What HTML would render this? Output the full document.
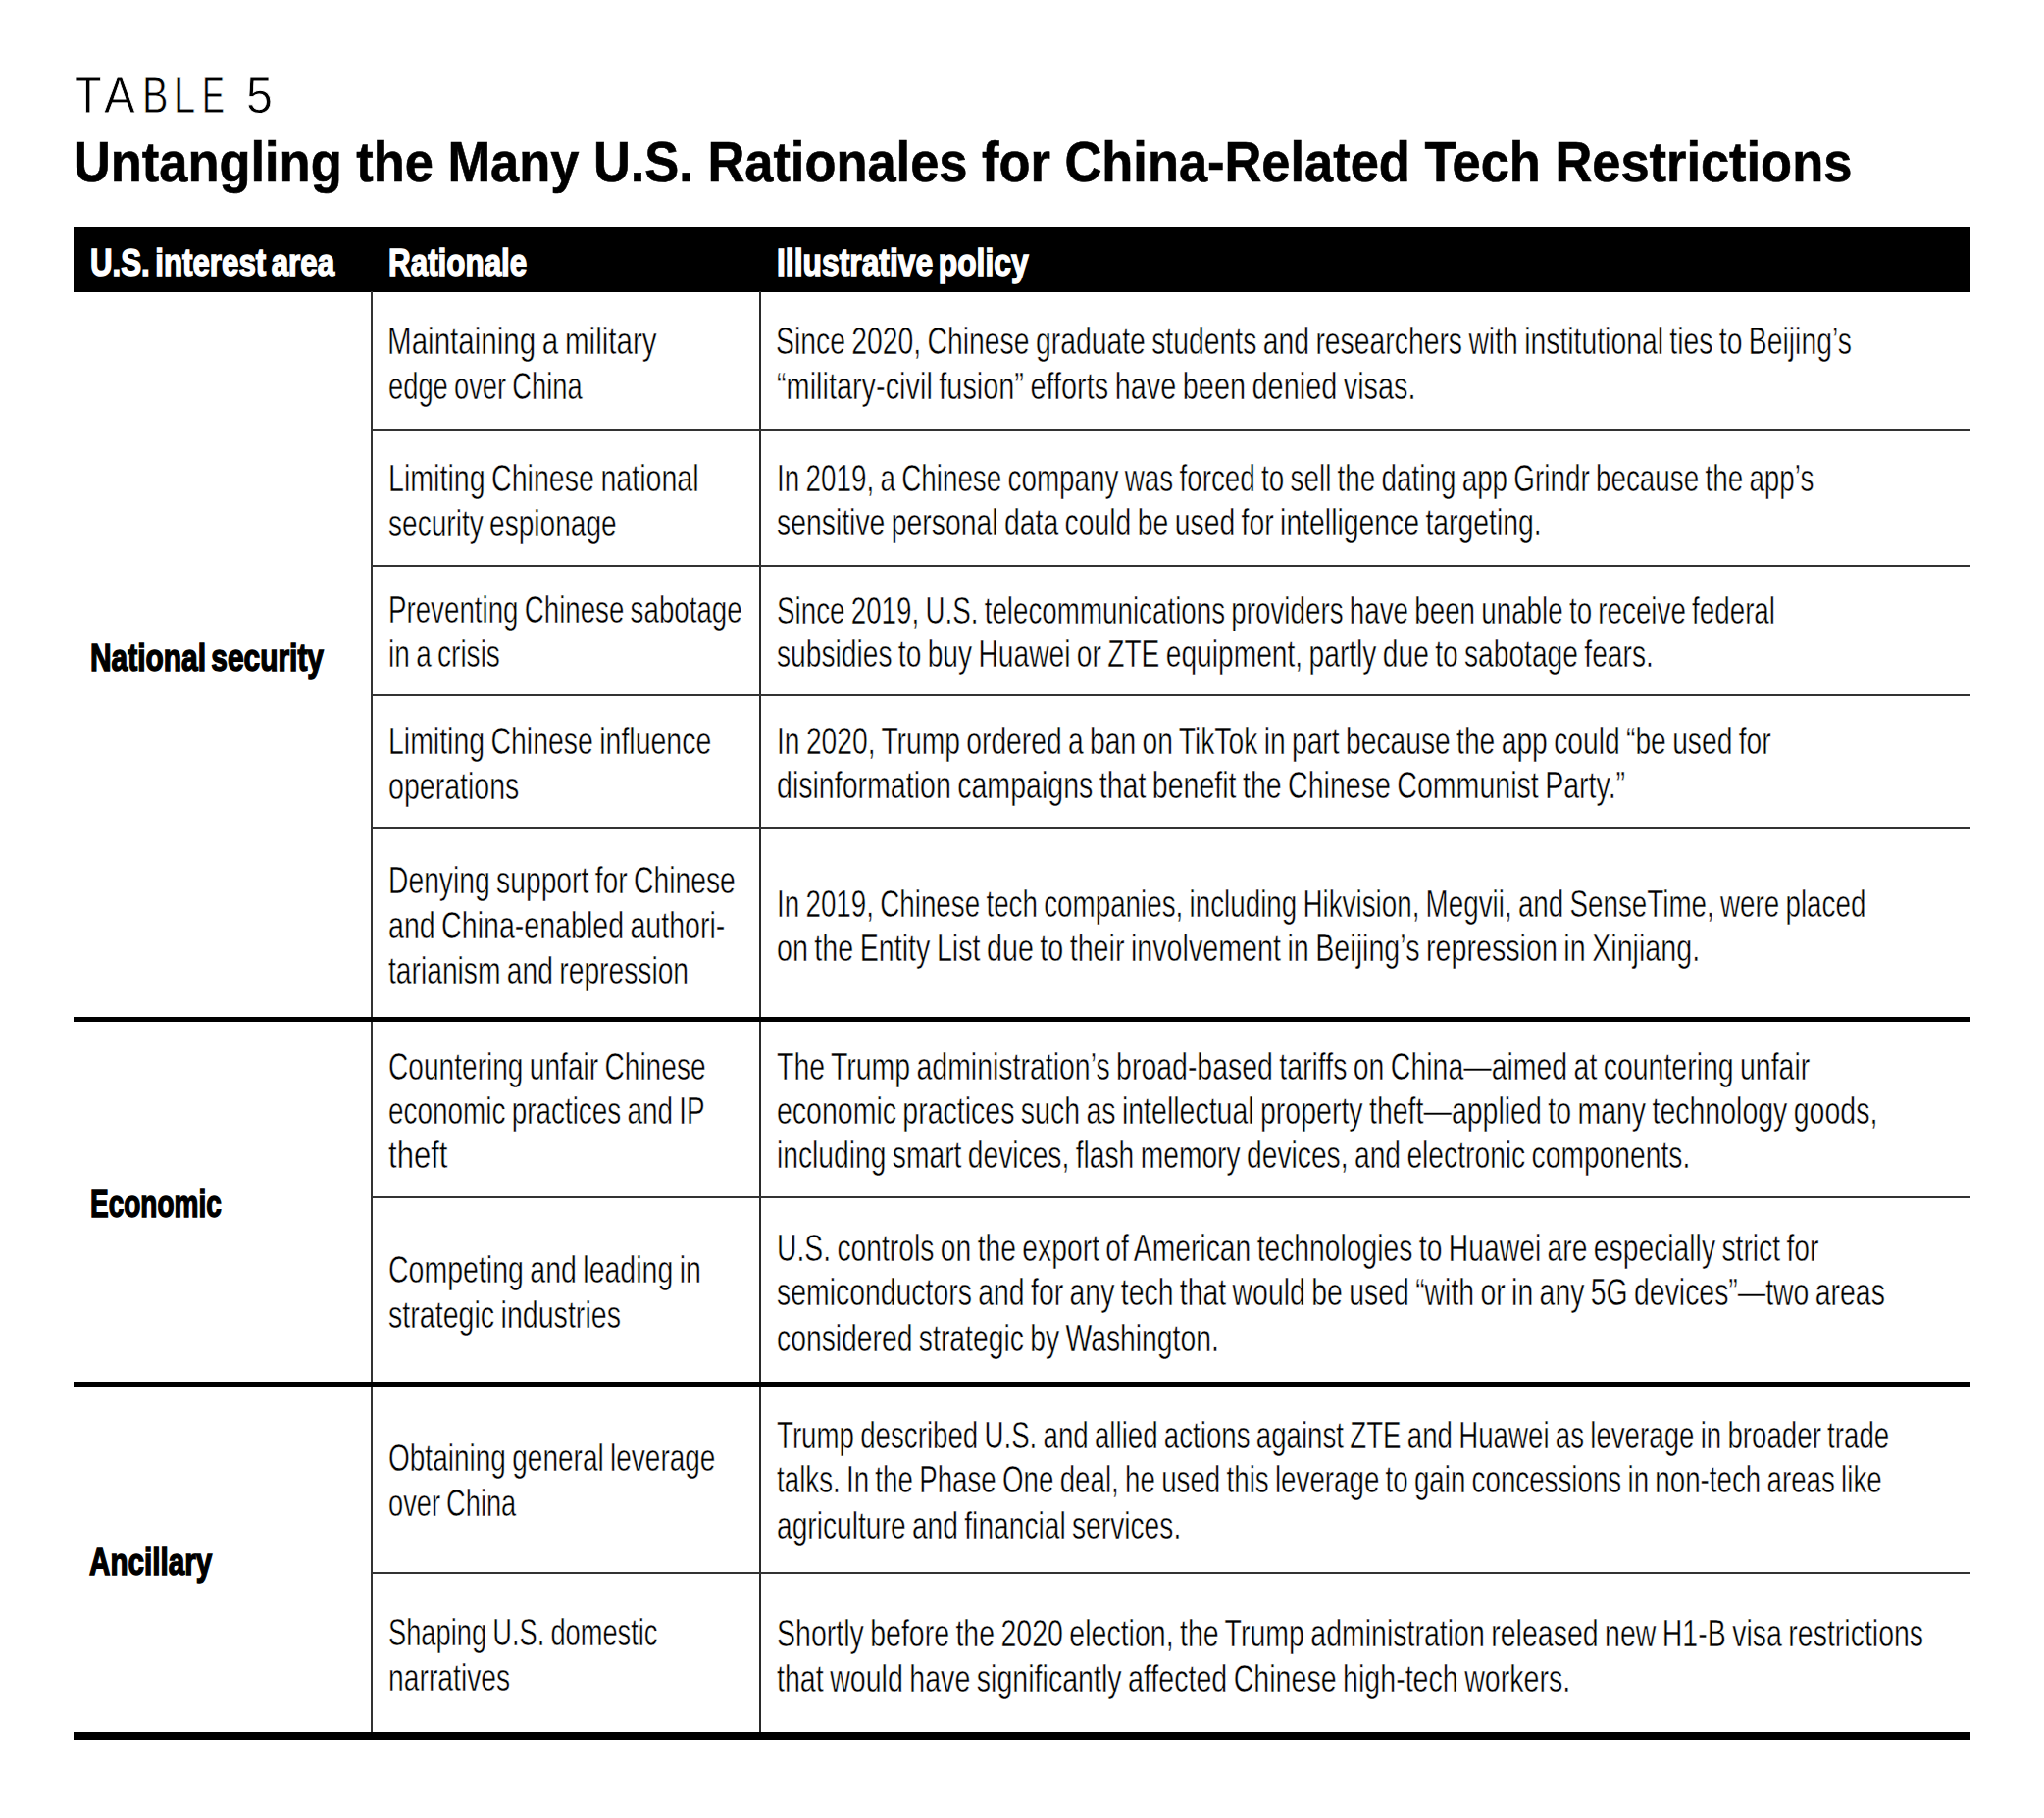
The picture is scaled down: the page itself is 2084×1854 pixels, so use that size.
<!DOCTYPE html>
<html><head><meta charset="utf-8"><title>Table 5</title><style>
*{margin:0;padding:0;box-sizing:border-box}
html,body{width:2084px;height:1854px;background:#fff;overflow:hidden}
body{position:relative;font-family:"Liberation Sans",sans-serif;color:#000}
.ln{position:absolute;white-space:nowrap;transform-origin:0 0;line-height:0;height:0}
.ln span{display:inline-block;line-height:normal}
.r{position:absolute;background:#000}
</style></head><body>
<div class="r" style="left:75px;top:232px;width:1934px;height:66px"></div>
<div class="r" style="left:378px;top:297px;width:2px;height:1470px;background:#333"></div>
<div class="r" style="left:774px;top:297px;width:2px;height:1470px;background:#2a2a2a"></div>
<div class="r" style="left:379px;top:438px;width:1630px;height:2px;background:#333"></div>
<div class="r" style="left:379px;top:576px;width:1630px;height:2px;background:#333"></div>
<div class="r" style="left:379px;top:708px;width:1630px;height:2px;background:#333"></div>
<div class="r" style="left:379px;top:843px;width:1630px;height:2px;background:#333"></div>
<div class="r" style="left:379px;top:1220px;width:1630px;height:2px;background:#333"></div>
<div class="r" style="left:379px;top:1603px;width:1630px;height:2px;background:#333"></div>
<div class="r" style="left:75px;top:1037px;width:1934px;height:5px"></div>
<div class="r" style="left:75px;top:1409px;width:1934px;height:5px"></div>
<div class="r" style="left:75px;top:1766px;width:1934px;height:8px"></div>
<div class="ln" style="left:75.80px;top:67.00px;font-size:52px;font-weight:400;-webkit-text-stroke:0.8px #fff;transform:scaleX(0.8662)"><span>T</span></div>
<div class="ln" style="left:106.00px;top:67.00px;font-size:52px;font-weight:400;-webkit-text-stroke:0.8px #fff;transform:scaleX(0.9158)"><span>A</span></div>
<div class="ln" style="left:144.80px;top:67.00px;font-size:52px;font-weight:400;-webkit-text-stroke:0.8px #fff;transform:scaleX(0.7635)"><span>B</span></div>
<div class="ln" style="left:177.00px;top:67.00px;font-size:52px;font-weight:400;-webkit-text-stroke:0.8px #fff;transform:scaleX(0.7666)"><span>L</span></div>
<div class="ln" style="left:205.90px;top:67.00px;font-size:52px;font-weight:400;-webkit-text-stroke:0.8px #fff;transform:scaleX(0.6613)"><span>E</span></div>
<div class="ln" style="left:251.30px;top:67.00px;font-size:52px;font-weight:400;-webkit-text-stroke:0.8px #fff;transform:scaleX(0.9322)"><span>5</span></div>
<div class="ln" id="t2" style="left:74.79px;top:132.00px;font-size:57px;font-weight:700;color:#000;-webkit-text-stroke:0.60px #000;transform:scaleX(0.9195)"><span>Untangling the Many U.S. Rationales for China-Related Tech Restrictions</span></div>
<div class="ln" id="h1" style="left:91.56px;top:246.00px;font-size:39px;font-weight:700;color:#fff;word-spacing:-4.00px;-webkit-text-stroke:1.50px #fff;transform:scaleX(0.8016)"><span>U.S. interest area</span></div>
<div class="ln" id="h2" style="left:395.78px;top:245.50px;font-size:39px;font-weight:700;color:#fff;word-spacing:-4.00px;-webkit-text-stroke:1.50px #fff;transform:scaleX(0.8049)"><span>Rationale</span></div>
<div class="ln" id="h3" style="left:792.16px;top:245.50px;font-size:39px;font-weight:700;color:#fff;word-spacing:-4.00px;-webkit-text-stroke:1.50px #fff;transform:scaleX(0.8159)"><span>Illustrative policy</span></div>
<div class="ln" id="l1" style="left:92.16px;top:649.00px;font-size:39px;font-weight:700;color:#000;word-spacing:-4.00px;-webkit-text-stroke:1.50px #000;transform:scaleX(0.7671)"><span>National security</span></div>
<div class="ln" id="l2" style="left:92.17px;top:1206.00px;font-size:39px;font-weight:700;color:#000;word-spacing:-4.00px;-webkit-text-stroke:1.50px #000;transform:scaleX(0.7177)"><span>Economic</span></div>
<div class="ln" id="l3" style="left:91.38px;top:1570.50px;font-size:39px;font-weight:700;color:#000;word-spacing:-4.00px;-webkit-text-stroke:1.50px #000;transform:scaleX(0.7601)"><span>Ancillary</span></div>
<div class="ln" id="c2_1a" style="left:395.35px;top:327.00px;font-size:38px;font-weight:400;color:#000;word-spacing:-2.00px;-webkit-text-stroke:0.50px #fff;transform:scaleX(0.7780)"><span>Maintaining a military</span></div>
<div class="ln" id="c2_1b" style="left:396.30px;top:373.00px;font-size:38px;font-weight:400;color:#000;word-spacing:-2.00px;-webkit-text-stroke:0.50px #fff;transform:scaleX(0.7191)"><span>edge over China</span></div>
<div class="ln" id="c2_2a" style="left:396.30px;top:467.00px;font-size:38px;font-weight:400;color:#000;word-spacing:-2.00px;-webkit-text-stroke:0.50px #fff;transform:scaleX(0.7528)"><span>Limiting Chinese national</span></div>
<div class="ln" id="c2_2b" style="left:396.30px;top:512.50px;font-size:38px;font-weight:400;color:#000;word-spacing:-2.00px;-webkit-text-stroke:0.50px #fff;transform:scaleX(0.7388)"><span>security espionage</span></div>
<div class="ln" id="c2_3a" style="left:396.30px;top:601.00px;font-size:38px;font-weight:400;color:#000;word-spacing:-2.00px;-webkit-text-stroke:0.50px #fff;transform:scaleX(0.7292)"><span>Preventing Chinese sabotage</span></div>
<div class="ln" id="c2_3b" style="left:396.30px;top:646.00px;font-size:38px;font-weight:400;color:#000;word-spacing:-2.00px;-webkit-text-stroke:0.50px #fff;transform:scaleX(0.7377)"><span>in a crisis</span></div>
<div class="ln" id="c2_4a" style="left:396.30px;top:735.00px;font-size:38px;font-weight:400;color:#000;word-spacing:-2.00px;-webkit-text-stroke:0.50px #fff;transform:scaleX(0.7489)"><span>Limiting Chinese influence</span></div>
<div class="ln" id="c2_4b" style="left:396.30px;top:781.00px;font-size:38px;font-weight:400;color:#000;word-spacing:-2.00px;-webkit-text-stroke:0.50px #fff;transform:scaleX(0.7513)"><span>operations</span></div>
<div class="ln" id="c2_5a" style="left:396.30px;top:877.00px;font-size:38px;font-weight:400;color:#000;word-spacing:-2.00px;-webkit-text-stroke:0.50px #fff;transform:scaleX(0.7438)"><span>Denying support for Chinese</span></div>
<div class="ln" id="c2_5b" style="left:396.30px;top:923.00px;font-size:38px;font-weight:400;color:#000;word-spacing:-2.00px;-webkit-text-stroke:0.50px #fff;transform:scaleX(0.7521)"><span>and China-enabled authori-</span></div>
<div class="ln" id="c2_5c" style="left:396.30px;top:969.00px;font-size:38px;font-weight:400;color:#000;word-spacing:-2.00px;-webkit-text-stroke:0.50px #fff;transform:scaleX(0.7427)"><span>tarianism and repression</span></div>
<div class="ln" id="c2_6a" style="left:396.30px;top:1066.50px;font-size:38px;font-weight:400;color:#000;word-spacing:-2.00px;-webkit-text-stroke:0.50px #fff;transform:scaleX(0.7396)"><span>Countering unfair Chinese</span></div>
<div class="ln" id="c2_6b" style="left:396.30px;top:1112.00px;font-size:38px;font-weight:400;color:#000;word-spacing:-2.00px;-webkit-text-stroke:0.50px #fff;transform:scaleX(0.7340)"><span>economic practices and IP</span></div>
<div class="ln" id="c2_6c" style="left:396.30px;top:1157.00px;font-size:38px;font-weight:400;color:#000;word-spacing:-2.00px;-webkit-text-stroke:0.50px #fff;transform:scaleX(0.8183)"><span>theft</span></div>
<div class="ln" id="c2_7a" style="left:396.30px;top:1274.00px;font-size:38px;font-weight:400;color:#000;word-spacing:-2.00px;-webkit-text-stroke:0.50px #fff;transform:scaleX(0.7504)"><span>Competing and leading in</span></div>
<div class="ln" id="c2_7b" style="left:396.30px;top:1319.50px;font-size:38px;font-weight:400;color:#000;word-spacing:-2.00px;-webkit-text-stroke:0.50px #fff;transform:scaleX(0.7527)"><span>strategic industries</span></div>
<div class="ln" id="c2_8a" style="left:396.30px;top:1466.00px;font-size:38px;font-weight:400;color:#000;word-spacing:-2.00px;-webkit-text-stroke:0.50px #fff;transform:scaleX(0.7372)"><span>Obtaining general leverage</span></div>
<div class="ln" id="c2_8b" style="left:396.30px;top:1512.00px;font-size:38px;font-weight:400;color:#000;word-spacing:-2.00px;-webkit-text-stroke:0.50px #fff;transform:scaleX(0.7166)"><span>over China</span></div>
<div class="ln" id="c2_9a" style="left:396.30px;top:1644.00px;font-size:38px;font-weight:400;color:#000;word-spacing:-2.00px;-webkit-text-stroke:0.50px #fff;transform:scaleX(0.7176)"><span>Shaping U.S. domestic</span></div>
<div class="ln" id="c2_9b" style="left:396.30px;top:1690.00px;font-size:38px;font-weight:400;color:#000;word-spacing:-2.00px;-webkit-text-stroke:0.50px #fff;transform:scaleX(0.7444)"><span>narratives</span></div>
<div class="ln" id="c3_1a" style="left:790.76px;top:327.00px;font-size:38px;font-weight:400;color:#000;word-spacing:-2.00px;-webkit-text-stroke:0.50px #fff;transform:scaleX(0.7458)"><span>Since 2020, Chinese graduate students and researchers with institutional ties to Beijing’s</span></div>
<div class="ln" id="c3_1b" style="left:792.20px;top:373.00px;font-size:38px;font-weight:400;color:#000;word-spacing:-2.00px;-webkit-text-stroke:0.50px #fff;transform:scaleX(0.7599)"><span>“military-civil fusion” efforts have been denied visas.</span></div>
<div class="ln" id="c3_2a" style="left:792.20px;top:467.00px;font-size:38px;font-weight:400;color:#000;word-spacing:-2.00px;-webkit-text-stroke:0.50px #fff;transform:scaleX(0.7324)"><span>In 2019, a Chinese company was forced to sell the dating app Grindr because the app’s</span></div>
<div class="ln" id="c3_2b" style="left:792.20px;top:512.00px;font-size:38px;font-weight:400;color:#000;word-spacing:-2.00px;-webkit-text-stroke:0.50px #fff;transform:scaleX(0.7465)"><span>sensitive personal data could be used for intelligence targeting.</span></div>
<div class="ln" id="c3_3a" style="left:792.20px;top:601.50px;font-size:38px;font-weight:400;color:#000;word-spacing:-2.00px;-webkit-text-stroke:0.50px #fff;transform:scaleX(0.7307)"><span>Since 2019, U.S. telecommunications providers have been unable to receive federal</span></div>
<div class="ln" id="c3_3b" style="left:792.20px;top:646.00px;font-size:38px;font-weight:400;color:#000;word-spacing:-2.00px;-webkit-text-stroke:0.50px #fff;transform:scaleX(0.7416)"><span>subsidies to buy Huawei or ZTE equipment, partly due to sabotage fears.</span></div>
<div class="ln" id="c3_4a" style="left:792.20px;top:735.00px;font-size:38px;font-weight:400;color:#000;word-spacing:-2.00px;-webkit-text-stroke:0.50px #fff;transform:scaleX(0.7430)"><span>In 2020, Trump ordered a ban on TikTok in part because the app could “be used for</span></div>
<div class="ln" id="c3_4b" style="left:792.20px;top:780.00px;font-size:38px;font-weight:400;color:#000;word-spacing:-2.00px;-webkit-text-stroke:0.50px #fff;transform:scaleX(0.7515)"><span>disinformation campaigns that benefit the Chinese Communist Party.”</span></div>
<div class="ln" id="c3_5a" style="left:792.20px;top:900.50px;font-size:38px;font-weight:400;color:#000;word-spacing:-2.00px;-webkit-text-stroke:0.50px #fff;transform:scaleX(0.7312)"><span>In 2019, Chinese tech companies, including Hikvision, Megvii, and SenseTime, were placed</span></div>
<div class="ln" id="c3_5b" style="left:792.20px;top:946.00px;font-size:38px;font-weight:400;color:#000;word-spacing:-2.00px;-webkit-text-stroke:0.50px #fff;transform:scaleX(0.7548)"><span>on the Entity List due to their involvement in Beijing’s repression in Xinjiang.</span></div>
<div class="ln" id="c3_6a" style="left:792.20px;top:1066.50px;font-size:38px;font-weight:400;color:#000;word-spacing:-2.00px;-webkit-text-stroke:0.50px #fff;transform:scaleX(0.7489)"><span>The Trump administration’s broad-based tariffs on China—aimed at countering unfair</span></div>
<div class="ln" id="c3_6b" style="left:792.20px;top:1112.00px;font-size:38px;font-weight:400;color:#000;word-spacing:-2.00px;-webkit-text-stroke:0.50px #fff;transform:scaleX(0.7499)"><span>economic practices such as intellectual property theft—applied to many technology goods,</span></div>
<div class="ln" id="c3_6c" style="left:792.20px;top:1157.00px;font-size:38px;font-weight:400;color:#000;word-spacing:-2.00px;-webkit-text-stroke:0.50px #fff;transform:scaleX(0.7430)"><span>including smart devices, flash memory devices, and electronic components.</span></div>
<div class="ln" id="c3_7a" style="left:792.20px;top:1252.00px;font-size:38px;font-weight:400;color:#000;word-spacing:-2.00px;-webkit-text-stroke:0.50px #fff;transform:scaleX(0.7445)"><span>U.S. controls on the export of American technologies to Huawei are especially strict for</span></div>
<div class="ln" id="c3_7b" style="left:792.20px;top:1297.00px;font-size:38px;font-weight:400;color:#000;word-spacing:-2.00px;-webkit-text-stroke:0.50px #fff;transform:scaleX(0.7473)"><span>semiconductors and for any tech that would be used “with or in any 5G devices”—two areas</span></div>
<div class="ln" id="c3_7c" style="left:792.20px;top:1344.00px;font-size:38px;font-weight:400;color:#000;word-spacing:-2.00px;-webkit-text-stroke:0.50px #fff;transform:scaleX(0.7450)"><span>considered strategic by Washington.</span></div>
<div class="ln" id="c3_8a" style="left:792.20px;top:1442.50px;font-size:38px;font-weight:400;color:#000;word-spacing:-2.00px;-webkit-text-stroke:0.50px #fff;transform:scaleX(0.7285)"><span>Trump described U.S. and allied actions against ZTE and Huawei as leverage in broader trade</span></div>
<div class="ln" id="c3_8b" style="left:792.20px;top:1488.00px;font-size:38px;font-weight:400;color:#000;word-spacing:-2.00px;-webkit-text-stroke:0.50px #fff;transform:scaleX(0.7298)"><span>talks. In the Phase One deal, he used this leverage to gain concessions in non-tech areas like</span></div>
<div class="ln" id="c3_8c" style="left:792.20px;top:1534.50px;font-size:38px;font-weight:400;color:#000;word-spacing:-2.00px;-webkit-text-stroke:0.50px #fff;transform:scaleX(0.7416)"><span>agriculture and financial services.</span></div>
<div class="ln" id="c3_9a" style="left:792.20px;top:1645.00px;font-size:38px;font-weight:400;color:#000;word-spacing:-2.00px;-webkit-text-stroke:0.50px #fff;transform:scaleX(0.7504)"><span>Shortly before the 2020 election, the Trump administration released new H1-B visa restrictions</span></div>
<div class="ln" id="c3_9b" style="left:792.20px;top:1691.00px;font-size:38px;font-weight:400;color:#000;word-spacing:-2.00px;-webkit-text-stroke:0.50px #fff;transform:scaleX(0.7526)"><span>that would have significantly affected Chinese high-tech workers.</span></div>
</body></html>
